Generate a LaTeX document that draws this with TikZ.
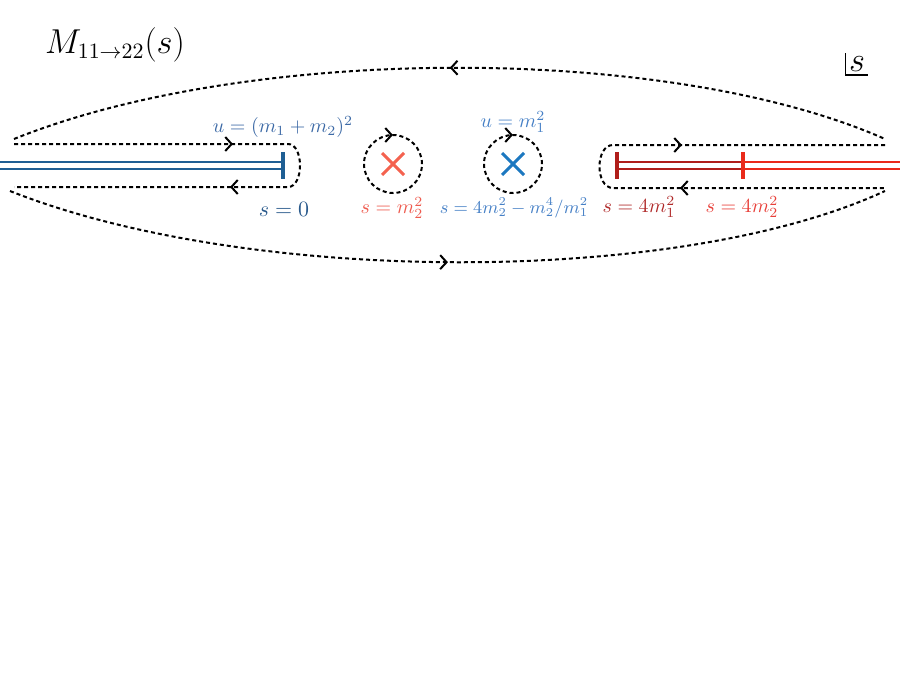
\documentclass[tikz,border=0pt]{standalone}
\usetikzlibrary{arrows.meta, decorations.markings}
\definecolor{cutblue}{HTML}{1F5F94}
\definecolor{labdarkblue}{HTML}{2A5A8C}
\definecolor{labblue}{HTML}{3D6AA6}
\definecolor{poleblue}{HTML}{1C78C0}
\definecolor{lightblue}{HTML}{4680C6}
\definecolor{coral}{HTML}{F4624F}
\definecolor{labcoral}{HTML}{EE5B4F}
\definecolor{darkred}{HTML}{B01E1A}
\definecolor{labdarkred}{HTML}{B02A2A}
\definecolor{brightred}{HTML}{EA2A1A}
\definecolor{labred}{HTML}{E8403A}
\tikzstyle{contour} = [
    black,
    line width=1pt,
    dash pattern=on 2pt off 1.5pt
]
\tikzstyle{cut} = [
    line width=1.1pt,
    double=white,
    double distance=2.4pt
]
\tikzstyle{bar} = [line width=1.8pt]
\tikzstyle{cross} = [line width=1.5pt]
\tikzset{
    fwdat/.style={postaction={decorate, decoration={markings,
        mark=at position #1 with {\arrow{Straight Barb[length=3.2pt,width=7pt]}}}}},
    bwdat/.style={postaction={decorate, decoration={markings,
        mark=at position #1 with {\arrowreversed{Straight Barb[length=3.2pt,width=7pt]}}}}}
}

\begin{document}
\begin{tikzpicture}[x=0.5pt, y=-0.5pt]

\useasboundingbox (0,0) rectangle (900,675);

\node (title) at (115,45) {\fontsize{16}{19}\selectfont $M_{11\to 22}(s)$};

\node (splane) [inner sep=1.5pt] at (857,64) {\LARGE $s$};
\draw [line width=0.8pt] (splane.north west) |- (splane.south east);

% cuts
\coordinate (blueL) at (0,165.5);
\coordinate (blueR) at (283,165.5);
\coordinate (redL) at (617,165.5);
\coordinate (redM) at (743,165.5);
\coordinate (redR) at (900,165.5);

\draw [cut, cutblue] (blueL) -- (blueR);
\draw [bar, cutblue] (blueR) ++(0,-13.5) -- ++(0,27);

\draw [cut, darkred] (redL) -- (redM);
\draw [cut, brightred] (redM) -- (redR);
\draw [bar, darkred] (redL) ++(0,-13.5) -- ++(0,27);
\draw [bar, brightred] (redM) ++(0,-13.5) -- ++(0,27);

% poles
\coordinate (pole1) at (393,164);
\coordinate (pole2) at (513,164);

\draw [cross, coral] (pole1) ++(-11,-11) -- ++(22,22) ++(0,-22) -- ++(-22,22);
\draw [cross, poleblue] (pole2) ++(-11,-11) -- ++(22,22) ++(0,-22) -- ++(-22,22);

\draw [contour, bwdat=0.25] (pole1) circle [radius=14.5pt];
\draw [contour, bwdat=0.25] (pole2) circle [radius=14.5pt];

% contours
\draw [contour, fwdat=109.5pt, fwdat=-108pt]
    (14,144) -- (288,144) .. controls (304,144) and (304,187) .. (288,187) -- (14,187);

\draw [contour, bwdat=101.5pt, bwdat=-102.5pt]
    (885,145) -- (613,145) .. controls (595,145) and (595,188) .. (613,188) -- (885,188);

\draw [contour, bwdat=0.5] (14,139) .. controls (250,44) and (670,44) .. (885,139);
\draw [contour, fwdat=0.5] (10,191) .. controls (250,286) and (680,286) .. (885,191);

% labels
\node (uthr) [text=labblue] at (283,127) {$u=(m_1+m_2)^2$};
\node (szero) [text=labdarkblue] at (284,209) {\fontsize{11}{13}\selectfont $s=0$};
\node (spole1) [text=labcoral] at (392,208) {$s=m_2^2$};
\node (upole2) [text=lightblue] at (513,122) {$u=m_1^2$};
\node (spole2) [text=lightblue] at (514,208) {\small $s=4m_2^2-m_2^4/m_1^2$};
\node (sthr1) [text=labdarkred] at (639,207) {$s=4m_1^2$};
\node (sthr2) [text=labred] at (742,207) {$s=4m_2^2$};

\end{tikzpicture}
\end{document}
